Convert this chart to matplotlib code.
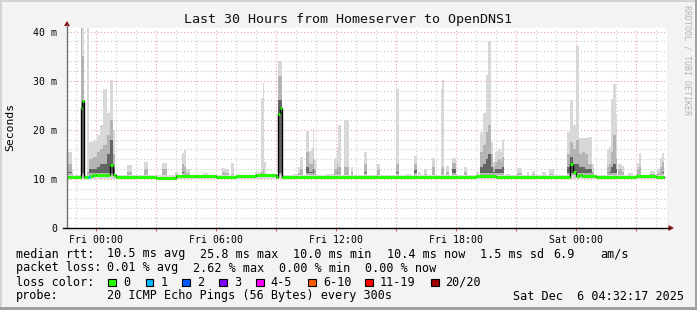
import numpy as np
import matplotlib
matplotlib.use('Agg')
import matplotlib.pyplot as plt
from matplotlib.patches import Rectangle, Polygon
from matplotlib.lines import Line2D

W, H = 697, 310
plt.rcParams['font.family'] = ['DejaVu Sans Mono']

# time axis in hours relative to Fri 00:00
t_first, t_last = -1.435, 28.565
data_end = 28.4

xtick_hours = [0, 6, 12, 18, 24]
xtick_labels = ['Fri 00:00', 'Fri 06:00', 'Fri 12:00', 'Fri 18:00', 'Sat 00:00']
ytick_vals = [0, 10, 20, 30, 40]
ytick_labels = ['0', '10 m', '20 m', '30 m', '40 m']

# median rtt (ms) in quiet periods, one value per hour starting at -2 h
base_hours = list(range(-2, 29))
base_median = [10.3, 10.4, 10.7, 10.4, 10.4, 10.2, 10.5, 10.5, 10.4, 10.6,
               10.7, 10.3, 10.3, 10.4, 10.4, 10.4, 10.4, 10.4, 10.4, 10.4,
               10.4, 10.5, 10.4, 10.4, 10.4, 10.4, 10.5, 10.4, 10.4, 10.5, 10.4]

# median excursions (hours, ms)
med_start = [-0.75, -0.67, -0.33, -0.12, 0.55, 0.72, 0.85, 9.13, 9.22, 23.72, 23.85, 24.15]
med_end   = [-0.67, -0.58, -0.12, 0.55, 0.72, 0.85, 0.97, 9.22, 9.30, 23.85, 24.00, 24.30]
med_value = [24.5, 25.8, 10.6, 10.8, 10.9, 12.8, 10.8, 23.2, 24.5, 13.0, 11.5, 10.9]

# loss segments (hours, loss class)
loss_start = [-0.38]
loss_end = [-0.30]
loss_class = [1]

# smoke: ping spread per interval (ms)
smoke_start = [-1.45, -1.20, -0.75, -0.67, -0.45, -0.33, -0.12, 0.05, 0.22, 0.38, 0.55, 0.72, 0.85,
               1.55, 2.40, 3.30, 3.97, 4.30, 4.40, 4.50, 5.37, 6.30, 6.47, 6.77, 7.97, 8.27, 8.35, 8.42,
               9.13, 9.22, 9.87, 10.13, 10.20, 10.52, 10.68, 10.80, 10.87, 10.93, 11.50, 11.93, 12.05,
               12.13, 12.42, 12.75, 13.42, 14.08, 15.00, 15.50, 15.90, 16.10, 16.40, 16.80, 17.25, 17.32,
               17.50, 17.80, 18.40, 19.00, 19.20, 19.38, 19.50, 19.63, 19.77, 19.88, 19.95, 20.10, 20.25,
               20.32, 20.50, 21.05, 21.55, 21.80, 22.30, 22.67, 23.58, 23.72, 23.85, 24.00, 24.15, 24.30,
               24.47, 24.63, 24.83, 25.55, 25.67, 25.77, 25.88, 26.00, 26.13, 26.30, 26.60, 27.05, 27.17,
               27.70, 28.05, 28.20, 28.30]
smoke_end   = [-1.20, -1.12, -0.67, -0.58, -0.33, -0.12, 0.05, 0.22, 0.38, 0.55, 0.72, 0.85, 0.97,
               1.80, 2.60, 3.57, 4.13, 4.40, 4.50, 4.70, 5.60, 6.47, 6.67, 6.92, 8.25, 8.35, 8.42, 8.52,
               9.22, 9.30, 10.10, 10.20, 10.35, 10.68, 10.80, 10.87, 10.93, 11.00, 11.90, 12.05, 12.13,
               12.27, 12.67, 12.85, 13.58, 14.22, 15.17, 15.75, 16.05, 16.25, 16.55, 16.97, 17.32, 17.42,
               17.67, 18.00, 18.55, 19.15, 19.38, 19.50, 19.63, 19.77, 19.88, 19.95, 20.10, 20.25, 20.32,
               20.42, 20.70, 21.30, 21.65, 21.97, 22.52, 22.92, 23.72, 23.85, 24.00, 24.15, 24.30, 24.47,
               24.63, 24.83, 24.93, 25.67, 25.77, 25.88, 26.00, 26.08, 26.30, 26.42, 26.85, 27.17, 27.27,
               27.95, 28.20, 28.30, 28.40]
smoke_max   = [15.5, 12.0, 41.0, 41.0, 41.0, 17.6, 18.0, 18.9, 21.0, 28.4, 23.4, 30.1, 20.0,
               12.8, 13.5, 13.2, 11.5, 15.2, 15.9, 12.0, 11.3, 12.3, 12.0, 13.2, 11.5, 26.4, 29.5, 13.5,
               34.0, 34.0, 11.0, 12.5, 14.5, 19.8, 15.7, 16.4, 20.1, 14.0, 11.0, 14.2, 16.6,
               21.0, 22.1, 12.5, 15.5, 13.0, 28.4, 11.0, 14.7, 11.5, 12.0, 14.3, 28.3, 30.1,
               12.7, 14.2, 12.5, 11.5, 19.6, 23.4, 31.2, 38.1, 17.6, 13.5, 15.5, 16.0, 15.5,
               17.9, 11.0, 12.2, 11.5, 11.7, 11.4, 12.0, 19.6, 26.1, 21.0, 37.1, 18.3, 18.3,
               18.3, 18.6, 13.0, 15.9, 16.6, 26.3, 29.3, 23.0, 13.0, 12.7, 11.3, 13.3, 15.3,
               11.7, 12.0, 14.3, 15.2]
smoke_mid   = [13.0, 11.0, 41.0, 35.0, 11.5, 14.0, 14.5, 15.5, 16.0, 17.0, 19.0, 22.0, 15.0,
               11.5, 12.0, 12.0, 11.0, 13.0, 12.5, 11.3, 10.8, 11.5, 11.2, 11.0, 11.0, 11.5, 12.0, 11.0,
               31.0, 31.0, 10.7, 11.3, 12.0, 15.5, 13.0, 13.0, 14.0, 12.0, 10.7, 12.0, 13.0,
               12.5, 12.5, 11.5, 13.0, 12.0, 13.0, 10.7, 13.0, 10.8, 11.0, 12.5, 12.0, 12.5,
               11.5, 13.2, 11.5, 10.8, 15.5, 17.0, 19.6, 21.0, 15.0, 12.5, 13.5, 14.0, 13.5,
               14.5, 10.7, 11.3, 10.8, 11.0, 10.9, 11.0, 15.0, 17.5, 16.0, 18.0, 15.0, 15.5,
               15.0, 13.0, 11.5, 12.5, 13.0, 15.5, 19.0, 14.0, 12.0, 11.5, 10.8, 12.0, 12.5,
               11.0, 11.3, 12.5, 13.5]
smoke_dark  = [11.5, 10.6, 24.7, 26.0, 10.6, 12.0, 12.0, 12.5, 13.0, 13.0, 15.0, 18.0, 12.0,
               10.8, 11.0, 11.0, 10.6, 11.5, 11.0, 10.8, 10.6, 11.0, 10.8, 10.6, 10.7, 10.8, 11.0, 10.7,
               26.0, 26.0, 10.5, 10.8, 11.0, 12.5, 11.5, 11.5, 12.0, 11.0, 10.5, 11.0, 11.5,
               11.0, 11.0, 10.8, 11.5, 11.0, 11.5, 10.5, 11.8, 10.5, 10.6, 11.0, 11.0, 11.0,
               10.8, 12.0, 10.8, 10.5, 12.5, 13.0, 14.0, 15.0, 12.5, 11.5, 12.0, 12.0, 12.0,
               12.5, 10.5, 10.7, 10.5, 10.6, 10.6, 10.6, 12.5, 14.5, 13.0, 13.0, 12.5, 12.5,
               12.0, 12.0, 10.8, 11.0, 11.5, 12.5, 13.0, 12.0, 11.0, 10.8, 10.5, 11.0, 11.0,
               10.6, 10.8, 11.2, 11.5]
smoke_floor = 10.0
band_top = 10.9

loss_names = ['0', '1', '2', '3', '4-5', '6-10', '11-19', '20/20']
loss_colors = ['#26ff00', '#00b8ff', '#0059ff', '#7e00ff', '#ff00ff', '#ff5a00', '#ff0000', '#a00000']

stats_rtt = ['median rtt:', '10.5 ms avg', '25.8 ms max', '10.0 ms min', '10.4 ms now', '1.5 ms sd', '6.9', 'am/s']
stats_loss = ['packet loss:', '0.01 % avg', '2.62 % max', '0.00 % min', '0.00 % now']
probe_text = '20 ICMP Echo Pings (56 Bytes) every 300s'
stamp_text = 'Sat Dec  6 04:32:17 2025'


def px(x):
    return x / W


def py(y):
    return 1 - y / H


fig = plt.figure(figsize=(W / 100, H / 100), dpi=100, facecolor='#f3f3f3')

# frame of the image
fig.add_artist(Rectangle((0, 0), 1, 3 / H, transform=fig.transFigure, color='#a0a0a0', lw=0))
fig.add_artist(Rectangle((1 - 2 / W, 0), 2 / W, 1, transform=fig.transFigure, color='#a0a0a0', lw=0))
fig.add_artist(Rectangle((0, 1 - 2 / H), 1 - 2 / W, 2 / H, transform=fig.transFigure, color='#d4d4d4', lw=0))
fig.add_artist(Rectangle((0, 3 / H), 2 / W, 1, transform=fig.transFigure, color='#d4d4d4', lw=0))

ax = fig.add_axes([px(67), py(228), 600 / W, 200 / H])
ax.set_facecolor('white')
ax.set_xlim(t_first, t_last)
ax.set_ylim(0, 40.75)
for s in ax.spines.values():
    s.set_visible(False)

# grid
ax.set_xticks(np.arange(0, 28, 3))
ax.set_xticklabels([xtick_labels[xtick_hours.index(h)] if h in xtick_hours else '' for h in range(0, 28, 3)])
ax.set_xticks(np.arange(-1, 29, 1), minor=True)
ax.set_yticks(ytick_vals)
ax.set_yticklabels(ytick_labels)
ax.set_yticks(np.arange(0, 41, 2), minor=True)
ax.grid(which='minor', color='#c8c8c8', ls=(0, (1, 2)), lw=0.8)
ax.grid(which='major', color='#e8a4a4', ls=(0, (1, 2)), lw=0.8)
ax.set_axisbelow(True)
ax.tick_params(axis='x', which='major', length=2, color='#d06060', labelsize=7.1, pad=3)
ax.tick_params(axis='x', which='minor', length=0)
ax.tick_params(axis='y', which='both', length=0, labelsize=7.1, pad=7)

# smoke
ss = np.array(smoke_start)
se = np.array(smoke_end)
ax.fill_between([t_first, data_end], 9.9, band_top, color='#dcdcdc', lw=0, zorder=1)
ax.bar(ss, np.array(smoke_max) - smoke_floor, width=se - ss, bottom=smoke_floor,
       align='edge', color='#d8d8d8', lw=0, zorder=2)
ax.bar(ss, np.clip(np.array(smoke_mid) - band_top, 0, None), width=se - ss, bottom=band_top,
       align='edge', color='#b4b4b4', lw=0, zorder=3)
ax.bar(ss, np.clip(np.array(smoke_dark) - 11.3, 0, None), width=se - ss, bottom=11.3,
       align='edge', color='#646464', lw=0, zorder=4)


# median line
def median_at(t):
    for s, e, v in zip(med_start, med_end, med_value):
        if s <= t < e:
            return v
    return base_median[int(np.floor(t)) - base_hours[0]]


edges = sorted(set([t_first, data_end] + [h for h in base_hours if t_first < h < data_end]
                   + med_start + med_end))
vals = [median_at((a + b) / 2) for a, b in zip(edges[:-1], edges[1:])]
ax.step(edges, vals + [vals[-1]], where='post', color='black', lw=1, zorder=5)
ax.hlines(vals, edges[:-1], edges[1:], color=loss_colors[0], lw=2.2, zorder=6)
for s, e, c in zip(loss_start, loss_end, loss_class):
    ax.hlines(median_at((s + e) / 2), s, e, color=loss_colors[c], lw=2.2, zorder=7)

# axes with arrows
fig.add_artist(Line2D([px(67), px(67)], [py(228), py(25)], color='#707070', lw=1))
fig.add_artist(Line2D([px(63), px(669)], [py(228), py(228)], color='black', lw=1))
fig.add_artist(Polygon([(px(67), py(21)), (px(64), py(26)), (px(70), py(26))],
                       closed=True, transform=fig.transFigure, color='#8b1010', lw=0))
fig.add_artist(Polygon([(px(674), py(228)), (px(668.5), py(225)), (px(668.5), py(231))],
                       closed=True, transform=fig.transFigure, color='#8b1010', lw=0))

# texts
fig.text(px(348), py(20), 'Last 30 Hours from Homeserver to OpenDNS1', ha='center', va='center',
         fontsize=9.6, color='#111111')
fig.text(px(10), py(127), 'Seconds', rotation=90, ha='center', va='center', fontsize=8.2)
fig.text(px(687), py(5), 'RRDTOOL / TOBI OETIKER', rotation=270, ha='center', va='top',
         fontsize=6, color='#b4b4b4')

fs = 8.5
row1_x = [16, 107, 200, 293, 387, 480, 553, 600]
for s, x in zip(stats_rtt, row1_x):
    fig.text(px(x), py(254), s, ha='left', va='center', fontsize=fs)
row2_x = [16, 107, 193, 279, 365]
for s, x in zip(stats_loss, row2_x):
    fig.text(px(x), py(268), s, ha='left', va='center', fontsize=fs)

fig.text(px(16), py(282), 'loss color:', ha='left', va='center', fontsize=fs)
box_x = [108.3, 145.7, 182.3, 219.3, 256, 308.3, 365, 431]
for name, col, x in zip(loss_names, loss_colors, box_x):
    fig.add_artist(Rectangle((px(x), py(286)), 7.5 / W, 7.5 / H, transform=fig.transFigure,
                             facecolor=col, edgecolor='black', lw=0.8))
    fig.text(px(x + 14.5), py(282), name, ha='left', va='center', fontsize=fs)

fig.text(px(16), py(296), 'probe:', ha='left', va='center', fontsize=fs)
fig.text(px(107), py(296), probe_text, ha='left', va='center', fontsize=fs)
fig.text(px(513), py(296), stamp_text, ha='left', va='center', fontsize=fs)

fig.savefig('out.png', dpi=100, facecolor=fig.get_facecolor())
